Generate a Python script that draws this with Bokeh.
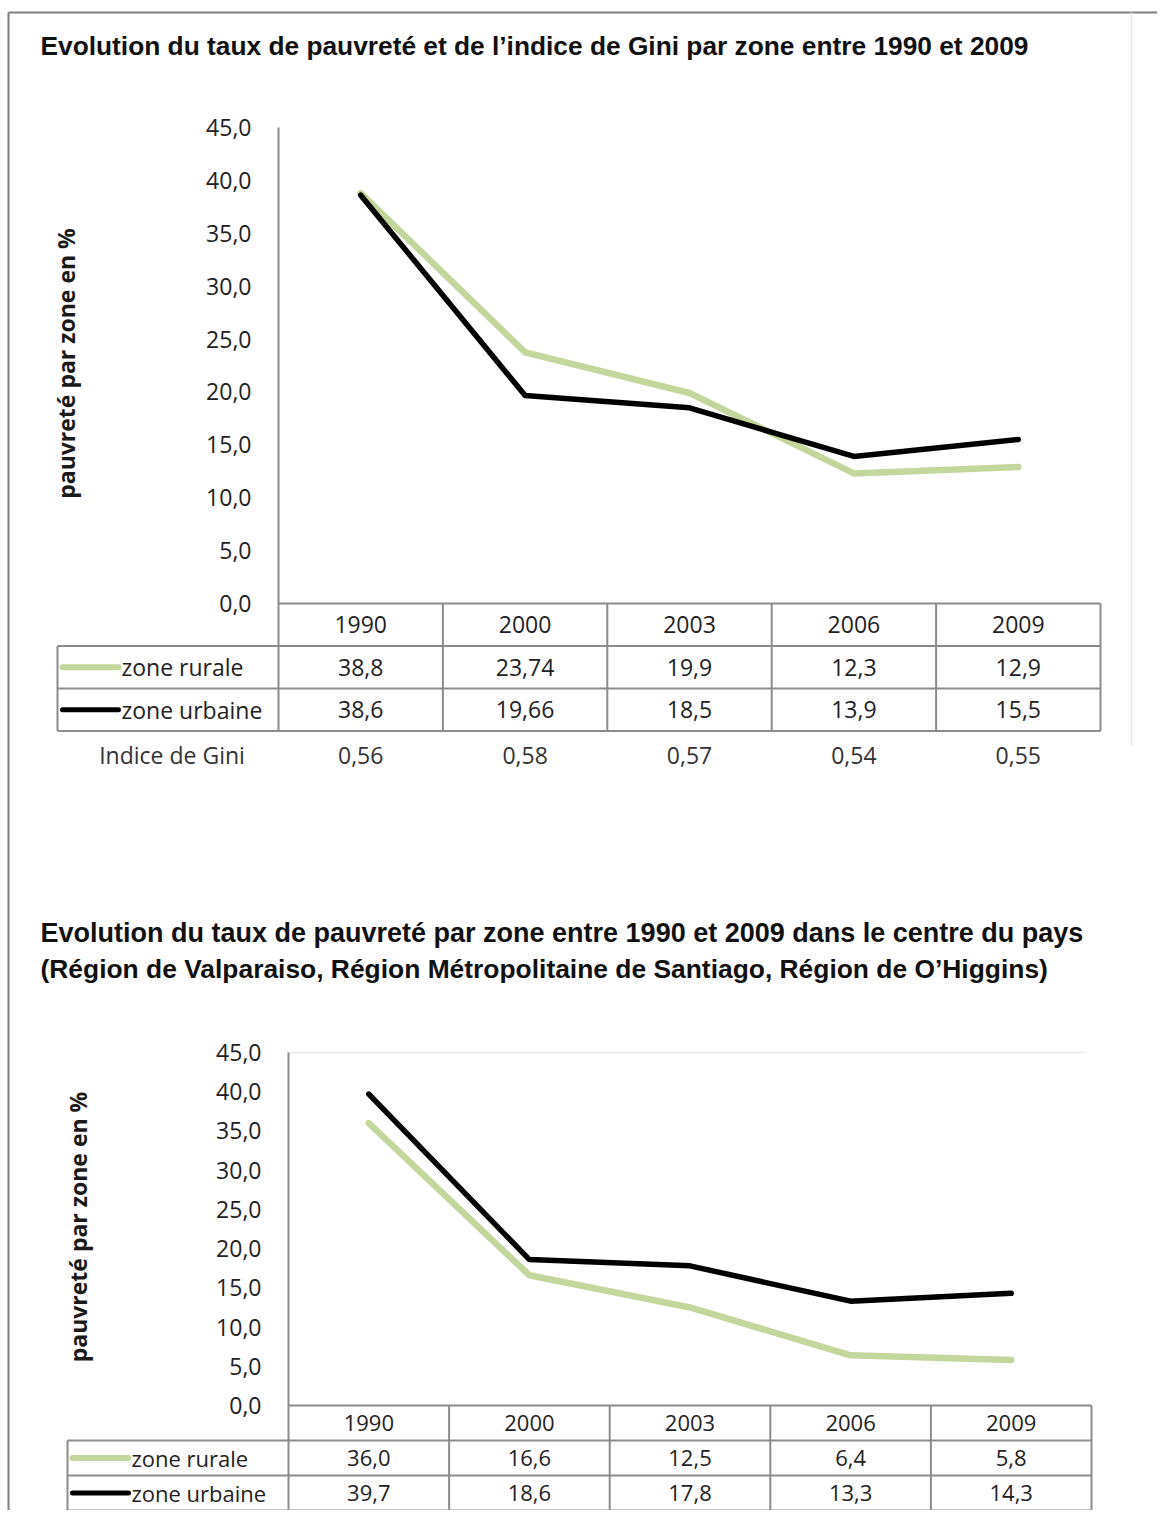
from math import pi
from bokeh.plotting import figure
from bokeh.models import Range1d
from bokeh.core.properties import value
from bokeh.embed import file_html
from bokeh.resources import INLINE

# ---------------- data ----------------
years = ["1990", "2000", "2003", "2006", "2009"]
rural_national = [38.8, 23.74, 19.9, 12.3, 12.9]
urban_national = [38.6, 19.66, 18.5, 13.9, 15.5]
gini_index = [0.56, 0.58, 0.57, 0.54, 0.55]
rural_centre = [36.0, 16.6, 12.5, 6.4, 5.8]
urban_centre = [39.7, 18.6, 17.8, 13.3, 14.3]
y_ticks = [0, 5, 10, 15, 20, 25, 30, 35, 40, 45]
y_tick_labels = ["0,0", "5,0", "10,0", "15,0", "20,0", "25,0", "30,0", "35,0", "40,0", "45,0"]
series_names = ["zone rurale", "zone urbaine"]
gini_label = "Indice de Gini"
y_title = "pauvreté par zone en %"
title_1 = ["Evolution du taux de pauvreté et de l\u2019indice de Gini par zone entre 1990 et 2009"]
title_2 = ["Evolution du taux de pauvreté par zone entre 1990 et 2009 dans le centre du pays",
           "(Région de Valparaiso, Région Métropolitaine de Santiago, Région de O\u2019Higgins)"]


def fmt(v):
    return str(v).replace(".", ",")


# ---------------- styles ----------------
RURAL_COLOR = "#c3d69b"
URBAN_COLOR = "#000000"
GRID_COLOR = "#8c8c8c"
BODY_FONT = value("Open Sans")
TITLE_FONT = value("Liberation Sans")
BODY_SIZE = "23px"

W, H = 1157, 1510
OX, OY = 0, 0  # canvas coordinates

p = figure(width=W, height=H, x_range=Range1d(OX, OX + W), y_range=Range1d(OY + H, OY),
           output_backend="svg", toolbar_location=None,
           x_axis_location=None, y_axis_location=None, min_border=0,
           outline_line_color=None, background_fill_color="white",
           border_fill_color="white")
p.grid.visible = False

# outer frame
p.segment(x0=[8, 8], y0=[12, 12], x1=[OX + W, 8], y1=[12, OY + H],
          line_color="#7f7f7f", line_width=2)
p.segment(x0=[1131], y0=[12], x1=[1131], y1=[745], line_color="#e4e4e4", line_width=1.5)

charts = [
    dict(name="c1", rural=rural_national, urban=urban_national, gini=gini_index,
         axis_x=278, col_right=1100, y0=603, y45=127, legend_left=57, row_h=42.5,
         tick_right=251, ytitle_x=65, title=title_1, title_y=[45],
         title_sizes=["26.3px"], top_line=False, size=BODY_SIZE),
    dict(name="c2", rural=rural_centre, urban=urban_centre, gini=None,
         axis_x=288, col_right=1091, y0=1405, y45=1052, legend_left=67, row_h=35,
         tick_right=261, ytitle_x=77, title=title_2, title_y=[932, 968],
         title_sizes=["27px", "26.4px"], top_line=True, size="22px"),
]

for c in charts:
    n = len(years)
    colw = (c["col_right"] - c["axis_x"]) / n
    xr = c["name"] + "x"
    yr = c["name"] + "y"
    p.extra_x_ranges[xr] = Range1d((OX - c["axis_x"]) / colw - 0.5,
                                   (OX + W - c["axis_x"]) / colw - 0.5)
    k = (c["y0"] - c["y45"]) / 45.0
    p.extra_y_ranges[yr] = Range1d((c["y0"] - (OY + H)) / k, (c["y0"] - OY) / k)

    y0, rh = c["y0"], c["row_h"]
    idx = list(range(n))
    ts_body = c["size"]

    # title
    for line, ty, ts in zip(c["title"], c["title_y"], c["title_sizes"]):
        p.text(x=[40], y=[ty], text=[line], text_font=TITLE_FONT, text_font_size=ts,
               text_font_style="bold", text_color="#111111", text_baseline="middle",
               text_align="left")

    # y axis title
    p.text(x=[c["ytitle_x"]], y=[(c["y45"] + y0) / 2 - 2], text=[y_title], angle=pi / 2,
           text_font=BODY_FONT, text_font_size="23px", text_font_style="bold",
           text_color="#1a1a1a", text_align="center", text_baseline="middle")

    # y tick labels
    p.text(x=[c["tick_right"]] * len(y_ticks), y=y_ticks, text=y_tick_labels,
           y_range_name=yr, text_font=BODY_FONT, text_font_size=BODY_SIZE,
           text_color="#222222", text_align="right", text_baseline="middle")

    # plot top faint line
    if c["top_line"]:
        p.segment(x0=[c["axis_x"]], y0=[c["y45"]], x1=[c["col_right"] - 6], y1=[c["y45"]],
                  line_color="#ebebeb", line_width=1.5)

    # table grid
    p.segment(x0=[c["axis_x"]], y0=[y0], x1=[c["col_right"]], y1=[y0],
              line_color=GRID_COLOR, line_width=2)
    p.segment(x0=[c["legend_left"]] * 3, y0=[y0 + rh, y0 + 2 * rh, y0 + 3 * rh],
              x1=[c["col_right"]] * 3, y1=[y0 + rh, y0 + 2 * rh, y0 + 3 * rh],
              line_color=GRID_COLOR, line_width=2)
    p.segment(x0=[c["axis_x"]], y0=[c["y45"]], x1=[c["axis_x"]], y1=[y0 + 3 * rh],
              line_color=GRID_COLOR, line_width=2)
    p.segment(x0=[c["legend_left"]], y0=[y0 + rh], x1=[c["legend_left"]], y1=[y0 + 3 * rh],
              line_color=GRID_COLOR, line_width=2)
    p.segment(x0=[i + 0.5 for i in idx], y0=[y0] * n, x1=[i + 0.5 for i in idx],
              y1=[y0 + 3 * rh] * n, x_range_name=xr, line_color=GRID_COLOR, line_width=2)

    # lines
    p.line(x=idx, y=c["rural"], x_range_name=xr, y_range_name=yr, line_color=RURAL_COLOR,
           line_width=6.5, line_join="round", line_cap="round")
    p.line(x=idx, y=c["urban"], x_range_name=xr, y_range_name=yr, line_color=URBAN_COLOR,
           line_width=5.5, line_join="round", line_cap="round")

    # table text
    row_y = [y0 + rh / 2, y0 + 1.5 * rh, y0 + 2.5 * rh]
    p.text(x=idx, y=[row_y[0]] * n, text=years, x_range_name=xr, text_font=BODY_FONT,
           text_font_size=ts_body, text_color="#222222", text_align="center",
           text_baseline="middle")
    p.text(x=idx, y=[row_y[1]] * n, text=[fmt(v) for v in c["rural"]], x_range_name=xr,
           text_font=BODY_FONT, text_font_size=ts_body, text_color="#222222",
           text_align="center", text_baseline="middle")
    p.text(x=idx, y=[row_y[2]] * n, text=[fmt(v) for v in c["urban"]], x_range_name=xr,
           text_font=BODY_FONT, text_font_size=ts_body, text_color="#222222",
           text_align="center", text_baseline="middle")

    # legend keys in the table
    lx0 = c["legend_left"] + 5
    lx1 = lx0 + 56
    p.segment(x0=[lx0], y0=[row_y[1]], x1=[lx1], y1=[row_y[1]], line_color=RURAL_COLOR,
              line_width=6, line_cap="round")
    p.segment(x0=[lx0], y0=[row_y[2]], x1=[lx1], y1=[row_y[2]], line_color=URBAN_COLOR,
              line_width=5, line_cap="round")
    p.text(x=[lx1 + 3, lx1 + 3], y=row_y[1:], text=series_names, text_font=BODY_FONT,
           text_font_size=ts_body, text_color="#222222", text_align="left",
           text_baseline="middle")

    # Gini row
    if c["gini"] is not None:
        gy = y0 + 3 * rh + 24
        p.text(x=[(c["legend_left"] + c["axis_x"]) / 2 + 4], y=[gy], text=[gini_label],
               text_font=BODY_FONT, text_font_size=BODY_SIZE, text_color="#333333",
               text_align="center", text_baseline="middle")
        p.text(x=idx, y=[gy] * n, text=[fmt(v) for v in c["gini"]], x_range_name=xr,
               text_font=BODY_FONT, text_font_size=BODY_SIZE, text_color="#333333",
               text_align="center", text_baseline="middle")

open("out.html", "w").write(file_html(p, INLINE))
